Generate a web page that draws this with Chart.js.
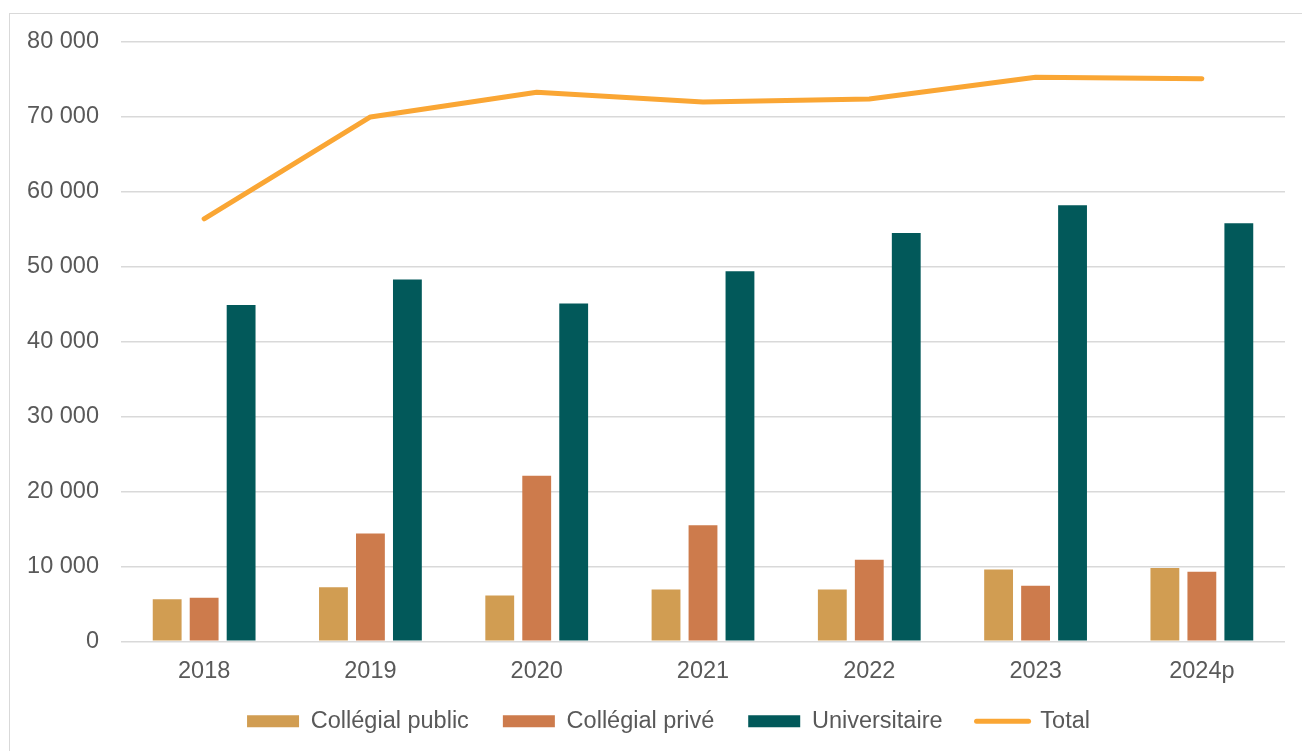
<!DOCTYPE html>
<html lang="fr">
<head>
<meta charset="utf-8">
<title>Effectifs</title>
<script src="https://cdn.jsdelivr.net/npm/chart.js@4.4.1/dist/chart.umd.min.js"></script>
<style>
    html, body { margin: 0; padding: 0; background: #fff; overflow: hidden; }
    #frame {
        position: absolute; left: 9px; top: 13px;
        width: 1400px; height: 800px;
        border: 1px solid #d9d9d9;
    }
    #wrap { position: absolute; left: 0; top: 0; width: 1302px; height: 751px; }
</style>
</head>
<body>
<div id="frame"></div>
<div id="wrap"><canvas id="chart"></canvas></div>
<script>
// Categories and series
const years = ['2018', '2019', '2020', '2021', '2022', '2023', '2024p'];
const collegialPublic = [5600, 7200, 6100, 6900, 6900, 9600, 9800];
const collegialPrive = [5800, 14400, 22100, 15500, 10900, 7400, 9300];
const universitaire = [44900, 48300, 45100, 49400, 54500, 58200, 55800];
const total = [56400, 70000, 73300, 72000, 72400, 75300, 75100];
const yTicks = [0, 10000, 20000, 30000, 40000, 50000, 60000, 70000, 80000];

const textColor = '#595959';
const fontFamily = '"Liberation Sans", Arial, sans-serif';
const fontSize = 23.5;

// thousands with a plain space: 80 000
function fmt(v) {
    return String(v).replace(/\B(?=(\d{3})+(?!\d))/g, ' ');
}

// legend row: centred on the whole frame, pulled up toward the axis labels
const legendNudge = {
    id: 'legendNudge',
    afterLayout(chart) {
        const l = chart.legend;
        if (!l) return;
        l.left += 26; l.right += 26;
        l.top -= 18; l.bottom -= 18;
    }
};

const ctx = document.getElementById('chart').getContext('2d');
new Chart(ctx, {
    type: 'bar',
    data: {
        labels: years,
        datasets: [
            { label: 'Collégial public', data: collegialPublic, backgroundColor: '#d19d52' },
            { label: 'Collégial privé', data: collegialPrive, backgroundColor: '#cd7b4c' },
            { label: 'Universitaire', data: universitaire, backgroundColor: '#02595a' },
            {
                type: 'line', label: 'Total', data: total,
                borderColor: '#faa634', backgroundColor: '#faa634',
                borderWidth: 5, pointRadius: 0, tension: 0,
                borderCapStyle: 'round', borderJoinStyle: 'round'
            }
        ]
    },
    plugins: [legendNudge],
    options: {
        responsive: true,
        maintainAspectRatio: false,
        animation: false,
        datasets: {
            bar: { categoryPercentage: 0.667, barPercentage: 0.78 }
        },
        layout: { padding: { top: 42, right: 17, bottom: -10, left: 0 } },
        scales: {
            x: {
                grid: { display: false },
                border: { display: false },
                ticks: {
                    color: textColor, padding: 8,
                    font: { family: fontFamily, size: fontSize }
                }
            },
            y: {
                min: 0, max: 80000,
                afterFit: (scale) => { scale.width = 121; },
                afterBuildTicks: (scale) => { scale.ticks = yTicks.map(v => ({ value: v })); },
                grid: { color: '#d9d9d9', lineWidth: 1.5, drawTicks: false },
                border: { display: false },
                ticks: {
                    color: textColor, padding: 22,
                    font: { family: fontFamily, size: fontSize },
                    callback: (v) => fmt(v)
                }
            }
        },
        plugins: {
            tooltip: { enabled: false },
            legend: {
                position: 'bottom',
                labels: {
                    color: textColor,
                    font: { family: fontFamily, size: fontSize },
                    usePointStyle: true,
                    pointStyleWidth: 52,
                    boxHeight: 12,
                    padding: 34,
                    generateLabels: (chart) => {
                        const items = Chart.defaults.plugins.legend.labels.generateLabels(chart);
                        items.forEach((it, i) => {
                            if (i === 3) {
                                it.pointStyle = 'line';
                                it.lineWidth = 5;
                                it.lineCap = 'round';
                                it.strokeStyle = '#faa634';
                            } else {
                                it.pointStyle = 'rect';
                                it.lineWidth = 0;
                            }
                        });
                        return items;
                    }
                }
            }
        }
    }
});
</script>
</body>
</html>
